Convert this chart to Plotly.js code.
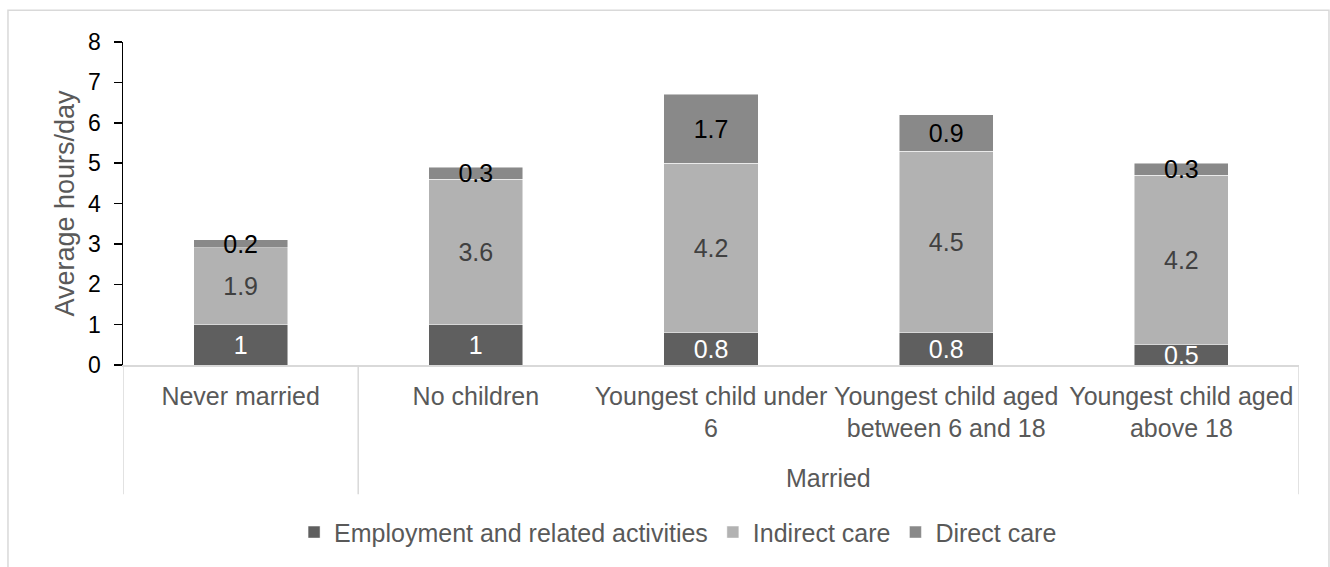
<!DOCTYPE html>
<html>
<head>
<meta charset="utf-8">
<script src="https://cdn.plot.ly/plotly-3.0.1.min.js"></script>
<style>
  html, body { margin: 0; padding: 0; background: #fff; }
  #chart { width: 1330px; height: 567px; }
</style>
</head>
<body>
<div id="chart"></div>
<script>
// ---- data ----
const categories = ["Never married", "No children", "Youngest child under 6", "Youngest child aged between 6 and 18", "Youngest child aged above 18"];
const tickLabels = ["Never married", "No children", "Youngest child under<br>6", "Youngest child aged<br>between 6 and 18", "Youngest child aged<br>above 18"];
const groupLabel = "Married";
const seriesNames = ["Employment and related activities", "Indirect care", "Direct care"];
const employment = [1, 1, 0.8, 0.8, 0.5];
const indirectCare = [1.9, 3.6, 4.2, 4.5, 4.2];
const directCare = [0.2, 0.3, 1.7, 0.9, 0.3];
const yTitle = "Average hours/day";

// ---- styles ----
const FONT = "Liberation Sans, Arial, sans-serif";
const colors = ["#5f5f5f", "#b2b2b2", "#898989"];
const textColors = ["#ffffff", "#404040", "#000000"];
const seriesValues = [employment, indirectCare, directCare];

const traces = seriesValues.map((vals, i) => ({
  type: "bar",
  name: seriesNames[i],
  x: categories,
  y: vals,
  text: vals.map(v => String(v)),
  texttemplate: "%{text}",
  textposition: "inside",
  insidetextanchor: "middle",
  constraintext: "none",
  textangle: 0,
  textfont: { family: FONT, size: 25, color: textColors[i] },
  marker: { color: colors[i], line: { color: "rgba(255,255,255,0.6)", width: 0.8 } },
  hoverinfo: "skip"
}));

const dividerBottom = -0.40;
const shapes = [
  // outer chart border
  { type: "rect", xref: "paper", yref: "paper", x0: -0.0978, x1: 1.0255, y0: -0.75, y1: 1.098,
    line: { color: "#d9d9d9", width: 1.5 }, fillcolor: "rgba(0,0,0,0)", layer: "below" }
];
// group dividers: left edge, between "Never married" and married group, right edge
[-0.5, 0.5, categories.length - 0.5].forEach(xv => {
  shapes.push({ type: "line", xref: "x", yref: "paper", x0: xv, x1: xv, y0: 0, y1: dividerBottom,
    line: { color: "#d9d9d9", width: 1.5 } });
});

const layout = {
  width: 1330, height: 567,
  margin: { l: 123, r: 31, t: 42, b: 202 },
  paper_bgcolor: "#ffffff", plot_bgcolor: "#ffffff",
  barmode: "stack",
  bargap: 0.6,
  font: { family: FONT, color: "#595959" },
  showlegend: true,
  legend: {
    orientation: "h", x: 0.472, xanchor: "center", y: -0.518, yanchor: "middle",
    font: { family: FONT, size: 25, color: "#595959" },
    traceorder: "normal", itemwidth: 30, itemclick: false
  },
  xaxis: {
    type: "category",
    range: [-0.5, categories.length - 0.5],
    tickmode: "array", tickvals: categories, ticktext: tickLabels,
    tickfont: { family: FONT, size: 25, color: "#595959" },
    ticklabelstandoff: 8,
    ticks: "", showgrid: false, zeroline: false,
    showline: true, linecolor: "#d9d9d9", linewidth: 1.5,
    fixedrange: true
  },
  yaxis: {
    range: [0, 8], dtick: 1, tick0: 0,
    ticks: "outside", ticklen: 8, tickwidth: 1.5, tickcolor: "#000000",
    tickfont: { family: FONT, size: 23, color: "#000000" },
    ticklabelstandoff: 8,
    showline: true, linecolor: "#000000", linewidth: 1.5,
    showgrid: false, zeroline: false,
    title: { text: yTitle, font: { family: FONT, size: 27, color: "#595959" }, standoff: 5 },
    fixedrange: true
  },
  shapes: shapes,
  annotations: [
    { text: groupLabel, xref: "x", yref: "paper", x: 2.5, y: -0.35, showarrow: false,
      xanchor: "center", yanchor: "middle",
      font: { family: FONT, size: 25, color: "#595959" } }
  ]
};

Plotly.newPlot("chart", traces, layout, { staticPlot: true, displayModeBar: false });
</script>
</body>
</html>
